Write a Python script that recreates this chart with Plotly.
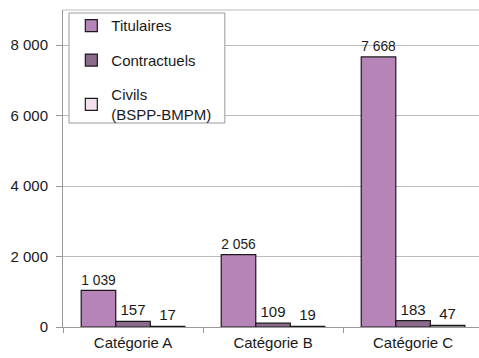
import plotly.graph_objects as go

categories = ["Catégorie A", "Catégorie B", "Catégorie C"]
titulaires = [1039, 2056, 7668]
contractuels = [157, 109, 183]
civils = [17, 19, 47]
series_names = ["Titulaires", "Contractuels", "Civils<br>(BSPP-BMPM)"]
series_colors = ["#B784B7", "#8C6A8C", "#F3E1F0"]
tick_vals = [0, 2000, 4000, 6000, 8000]

fig = go.Figure()
for i, (name, vals, col) in enumerate(zip(series_names, [titulaires, contractuels, civils], series_colors)):
    fig.add_trace(go.Bar(
        x=categories, y=vals, name=name, legendgroup=f"g{i}",
        marker=dict(color=col, line=dict(color="#1a1a1a", width=1.2)),
        texttemplate="%{y:,.0f}", textposition="outside", cliponaxis=False,
        textfont=dict(family="Liberation Sans, Arial", size=15, color="#1a1a1a"),
    ))

fig.update_layout(
    width=479, height=358,
    margin=dict(l=63, r=0, t=10, b=31, autoexpand=False),
    paper_bgcolor="white", plot_bgcolor="white",
    separators=", ",
    barmode="group", bargap=0.26, bargroupgap=0,
    font=dict(family="Liberation Sans, Arial", size=15, color="#1a1a1a"),
    showlegend=True,
    legend=dict(
        x=0.02, y=1.002, xanchor="left", yanchor="top",
        bgcolor="rgba(0,0,0,0)", borderwidth=0,
        traceorder="grouped", tracegroupgap=12,
        font=dict(size=15), entrywidth=130,
    ),
    xaxis=dict(
        range=[-0.5, 2.471], showline=True, linecolor="#999999",
        ticks="outside", tickson="boundaries", ticklen=5, tickcolor="#999999",
        tickfont=dict(size=15), automargin=False, ticklabelstandoff=2,
    ),
    yaxis=dict(
        range=[0, 9000], tickvals=tick_vals, tickformat=",.0f",
        showgrid=True, gridcolor="#BBBBBB", gridwidth=1,
        showline=True, linecolor="#999999", zeroline=False,
        ticks="outside", ticklen=6, tickcolor="#999999",
        tickfont=dict(size=15), automargin=False, ticklabelstandoff=5,
    ),
)
fig.add_shape(type="line", xref="paper", yref="paper", x0=0, x1=1, y0=1, y1=1,
              line=dict(color="#BBBBBB", width=1))
# legend frame
fig.add_shape(type="rect", xref="paper", yref="paper", x0=0.0144, x1=0.389, y0=0.6435, y1=0.9905,
              fillcolor="white", line=dict(color="#999999", width=1), layer="above")

fig.write_html("out.html", post_script="document.body.style.margin='0';",
               config={"displayModeBar": False})
